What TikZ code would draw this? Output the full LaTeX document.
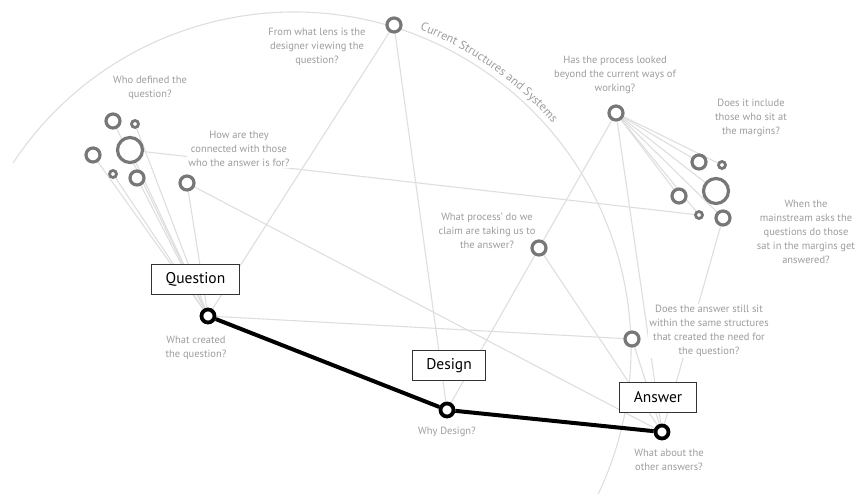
\documentclass[tikz,border=0pt]{standalone}
\usepackage{fontspec}
\setmainfont{PT Sans}
\usetikzlibrary{backgrounds,decorations.text}

\definecolor{ringgray}{HTML}{777777}
\definecolor{linkgray}{HTML}{DEDEDE}
\definecolor{notegray}{HTML}{9C9C9C}

\begin{document}
\begin{tikzpicture}[x=1pt,y=1pt,
        note/.style={text=notegray,align=center,inner sep=1pt,font=\fontsize{10.5}{14}\selectfont},
        cover/.style={note,fill=white},
        stage/.style={draw=black!80,fill=white,line width=1pt,minimum height=30pt,inner xsep=14pt,font=\fontsize{15.5}{18}\selectfont},
        dot/.style={circle,draw=black,fill=white,line width=3.8pt,minimum size=13pt,inner sep=0pt},
        ring/.style={circle,draw=ringgray,fill=white,line width=3.2pt,minimum size=14pt,inner sep=0pt},
        bigring/.style={ring,minimum size=25pt},
        smallring/.style={ring,line width=2.8pt,minimum size=7pt},
        link/.style={draw=linkgray,line width=1.1pt},
        trail/.style={draw=black,line width=4pt}]
    \useasboundingbox (0,0) rectangle (860,-495);
    \coordinate (ctr) at (294,-349);

    \node[dot] (qd) at (208,-316) {};
    \node[dot] (dd) at (447,-410) {};
    \node[dot] (ad) at (662,-432) {};

    \node[ring] (lens) at (394,-25) {};
    \node[ring] (l1) at (113,-121) {};
    \node[smallring] (l2) at (135,-124) {};
    \node[bigring] (l3) at (130,-150) {};
    \node[ring] (l4) at (93,-155) {};
    \node[smallring] (l5) at (113,-174) {};
    \node[ring] (l6) at (137,-178) {};
    \node[ring] (conn) at (187,-183) {};
    \node[ring] (proc) at (616,-113) {};
    \node[ring] (r1) at (699,-162) {};
    \node[smallring] (r2) at (722,-165) {};
    \node[bigring] (r3) at (716,-191) {};
    \node[ring] (r4) at (679,-196) {};
    \node[smallring] (r5) at (699,-215) {};
    \node[ring] (r6) at (723,-218) {};
    \node[ring] (claim) at (539,-248) {};
    \node[ring] (same) at (632,-339) {};

    \node[stage] (question) at (195.5,-279) {Question};
    \node[stage] (design) at (449,-365.5) {Design};
    \node[stage] (answer) at (658,-397) {Answer};

    \node[note] (lensq) at (317,-47) {From what lens is the\\designer viewing the\\question?};
    \node[note] (whoq) at (150,-88) {Who defined the\\question?};
    \node[cover] (connq) at (239,-149) {How are they\\connected with those\\who the answer is for?};
    \node[note] (procq) at (615,-74.5) {Has the process looked\\beyond the current ways of\\working?};
    \node[note] (margq) at (751,-118) {Does it include\\those who sit at\\the margins?};
    \node[note] (mainq) at (806,-232) {When the\\mainstream asks the\\questions do those\\sat in the margins get\\answered?};
    \node[note] (claimq) at (487,-231) {What process’ do we\\claim are taking us to\\the answer?};
    \node[cover] (sameq) at (709,-331) {Does the answer still sit\\within the same structures\\that created the need for\\the question?};
    \node[note] (createq) at (196,-348) {What created\\the question?};
    \node[note] (whyq) at (447,-432) {Why Design?};
    \node[note] (otherq) at (669,-460) {What about the\\other answers?};

    \begin{pgfonlayer}{background}
        \draw[link] ([shift={(146.5:337)}]ctr) arc[start angle=146.5,end angle=-25.5,radius=337];
        \foreach \n in {l1,l2,l3,l4,l5,l6,conn,lens,same}
            \draw[link] (qd) -- (\n);
        \foreach \n in {lens,claim}
            \draw[link] (dd) -- (\n);
        \foreach \n in {claim,same,proc,r6,conn}
            \draw[link] (ad) -- (\n);
        \foreach \n in {r1,r2,r3,r4,r5,r6}
            \draw[link] (proc) -- (\n);
        \draw[link] (proc) -- (claim);
        \draw[link] (l3) -- (r5);
    \end{pgfonlayer}

    \path[decorate,decoration={text along path,text align=left,raise=6.5pt,
            text format delimiters={|}{|},
            text={|\color{notegray}\fontsize{12}{14}\selectfont|Current Structures and Systems}}]
        ([shift={(68.5:337)}]ctr) arc[start angle=68.5,end angle=30,radius=337];

    \draw[trail] (qd) -- (dd) -- (ad);
\end{tikzpicture}
\end{document}
